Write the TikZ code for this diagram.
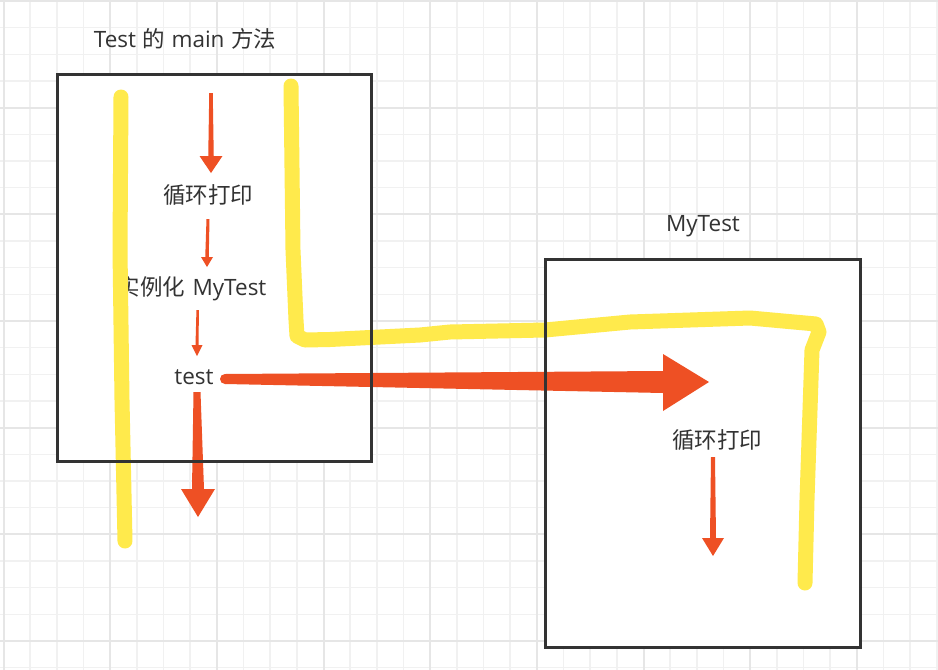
\documentclass[tikz,border=0pt]{standalone}
\usepackage{fontspec}
\setmainfont{Noto Sans CJK SC}
\newfontfamily\latinf{Open Sans}
\definecolor{gridminor}{RGB}{241,241,241}
\definecolor{gridmajor}{RGB}{230,230,230}
\definecolor{boxline}{RGB}{51,51,51}
\definecolor{txt}{RGB}{51,51,51}
\definecolor{redc}{RGB}{238,80,36}
\definecolor{yel}{RGB}{255,234,76}
\tikzset{
  minorline/.style={draw=gridminor, line width=1.6pt},
  majorline/.style={draw=gridmajor, line width=2pt},
  framebox/.style={draw=boxline, line width=3pt},
  whitebox/.style={fill=white},
  lbl/.style={inner sep=0pt, text=txt, font=\fontsize{22.5}{27}\selectfont},
  hilite/.style={draw=yel, line width=15pt, line cap=round, line join=round},
  redarrow/.style={fill=redc},
}
% vertical tapered arrow: #1 x, #2 y start, #3 y tip, #4 start width, #5 neck width, #6 head length, #7 head half width, #8 tip x
\newcommand\myvarrow[8]{%
  \fill[redarrow] (#1-#4/2,#2) -- (#8-#5/2,#3-#6) -- (#8-#7,#3-#6) -- (#8,#3)
     -- (#8+#7,#3-#6) -- (#8+#5/2,#3-#6) -- (#1+#4/2,#2) -- cycle;}
\newcommand\gap{\hspace{6.5pt}}
\begin{document}
\begin{tikzpicture}[x=1pt,y=-1pt]
\useasboundingbox (0,0) rectangle (938,670);
\fill[white] (0,0) rectangle (938,670);
% grid
\foreach \k in {0,...,35}{\pgfmathsetmacro\xx{3.5+26.667*\k}\draw[minorline] (\xx,0) -- (\xx,670);}
\foreach \k in {0,...,25}{\pgfmathsetmacro\yy{1+26.667*\k}\draw[minorline] (0,\yy) -- (938,\yy);}
\foreach \k in {0,4,...,32}{\pgfmathsetmacro\xx{3.5+26.667*\k}\draw[majorline] (\xx,0) -- (\xx,670);}
\foreach \k in {0,4,...,24}{\pgfmathsetmacro\yy{1+26.667*\k}\draw[majorline] (0,\yy) -- (938,\yy);}
% boxes (fill)
\coordinate (L1) at (57,74); \coordinate (L2) at (371,461);
\coordinate (R1) at (545,259); \coordinate (R2) at (860,647);
\fill[whitebox] (L1) rectangle (L2);
\fill[whitebox] (R1) rectangle (R2);
% labels
\node[lbl] (title) at (185,39) {{\latinf Test}\gap 的\gap{\latinf main}\gap 方法};
\node[lbl] (loopA) at (208,195) {循环打印};
\node[lbl] (inst) at (192,289) {实例化\hspace{7.5pt}{\latinf MyTest}};
\node[lbl] (test) at (194,377) {\latinf test};
\node[lbl] (mytest) at (703,226) {\latinf MyTest};
\node[lbl] (loopB) at (717,440) {循环打印};
% red arrows
\myvarrow{211}{93}{173}{3.5}{5.5}{17}{11.5}{211}
\myvarrow{208}{219}{267}{3}{3.5}{10}{6}{207}
\myvarrow{197.7}{310}{356}{2.5}{3}{11}{5.5}{197}
\myvarrow{197}{392}{517}{7}{12}{28}{17}{198}
\myvarrow{713}{457}{556}{4}{6}{18}{11}{713}
% horizontal big arrow
\coordinate (hstart) at (225,379);
\coordinate (htip) at (709,382);
\fill[redarrow] (225,374) -- (663,371) -- (663,354) -- (htip) -- (663,411) -- (663,393) -- (225,384) -- cycle;
\fill[redarrow] (hstart) circle[radius=5pt];
% yellow lines
\coordinate (ya) at (121,97);
\coordinate (yb) at (125,541);
\draw[hilite] (ya) -- (120,250) -- (122,400) -- (yb);
\coordinate (yc) at (291,86);
\coordinate (yd) at (805,583);
\draw[hilite] (yc) -- (293,250) -- (296,320) -- (297,336) -- (305,340) -- (330,339.5)
  -- (420,335) -- (450,332) -- (545,330) -- (630,322) -- (750,318) -- (816,324)
  -- (819,332) -- (812,350) -- (807,500) -- (yd);
% box borders on top
\draw[framebox] (L1) rectangle (L2);
\draw[framebox] (R1) rectangle (R2);
\end{tikzpicture}
\end{document}
